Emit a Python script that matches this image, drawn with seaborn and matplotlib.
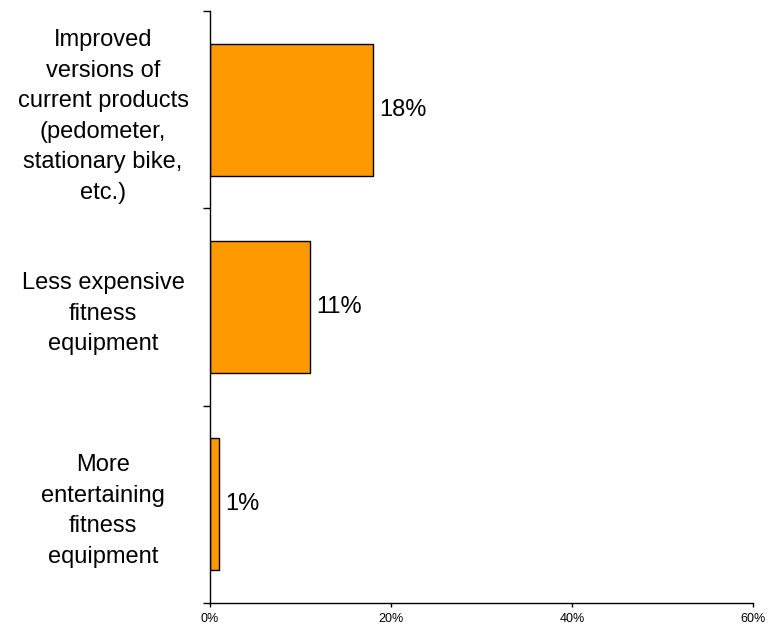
import matplotlib
matplotlib.use("Agg")
import matplotlib.pyplot as plt
import seaborn as sns
import pandas as pd
from matplotlib.ticker import FixedLocator, PercentFormatter

categories = [
    "Improved\nversions of\ncurrent products\n(pedometer,\nstationary bike,\netc.)",
    "Less expensive\nfitness\nequipment",
    "More\nentertaining\nfitness\nequipment",
]
values = [18, 11, 1]
value_labels = ["18%", "11%", "1%"]
x_ticks = [0, 20, 40, 60]

sns.set_theme(style="white")
plt.rcParams["font.family"] = ["Liberation Sans", "DejaVu Sans"]
plt.rcParams["text.color"] = "black"

df = pd.DataFrame({"category": categories, "value": values})

fig = plt.figure(figsize=(7.68, 6.29), dpi=100)
ax = fig.add_axes([0.2734, 0.0413, 0.7070, 0.9412])

sns.barplot(data=df, x="value", y="category", orient="h", color="#FF9900",
            saturation=1, width=0.67, edgecolor="black", linewidth=1, ax=ax)

ax.set_xlim(0, 60)
ax.set_ylim(len(categories) - 0.5, -0.5)
ax.set_xticks(x_ticks)
ax.xaxis.set_major_formatter(PercentFormatter(decimals=0))
ax.tick_params(axis="x", labelsize=9, length=3, width=1, direction="out",
               bottom=True, pad=4, colors="black")

# category labels centred to the left of the axis, ticks at category borders
ax.yaxis.set_minor_locator(FixedLocator([i - 0.5 for i in range(len(categories) + 1)]))
ax.tick_params(axis="y", which="minor", length=5, width=1, left=True, color="black")
ax.tick_params(axis="y", which="major", length=0, pad=77, labelsize=17,
               labelcolor="black")
for lab in ax.get_yticklabels():
    lab.set_horizontalalignment("center")
    lab.set_multialignment("center")
    lab.set_linespacing(1.5)

for i, (v, t) in enumerate(zip(values, value_labels)):
    ax.text(v + 0.7, i, t, va="center", ha="left", fontsize=17, color="black")

ax.set_xlabel("")
ax.set_ylabel("")
for s in ["top", "right"]:
    ax.spines[s].set_visible(False)
for s in ["left", "bottom"]:
    ax.spines[s].set_color("black")
    ax.spines[s].set_linewidth(1)

fig.savefig("out.png", dpi=100)
